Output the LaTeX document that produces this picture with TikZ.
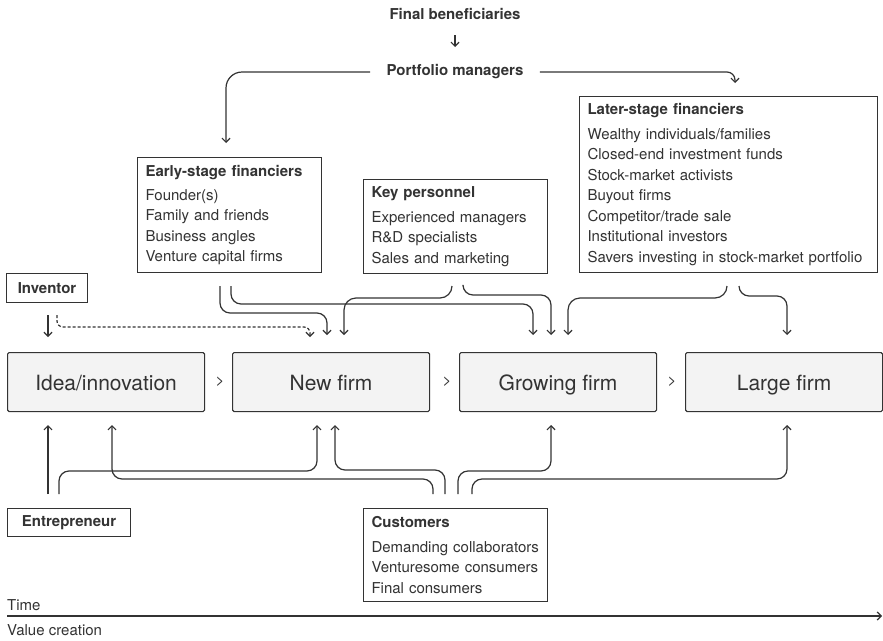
\documentclass[tikz,border=0pt]{standalone}
\usepackage{fontspec}
\setmainfont{TeX Gyre Heros}
\usetikzlibrary{arrows.meta}
\definecolor{ink}{HTML}{333333}
\definecolor{stagefill}{HTML}{F3F3F3}
\begin{document}
\begin{tikzpicture}[x=1pt,y=-1pt,
  font=\fontsize{15}{20.5}\selectfont, text=ink,
  conn/.style={draw=ink, line width=1.2pt, rounded corners=10pt, -{Straight Barb[length=4pt,width=8pt]}},
  infobox/.style={draw=ink, line width=1.1pt, anchor=north west, align=left, inner xsep=8pt, inner ysep=0pt},
  namebox/.style={draw=ink, line width=1.1pt, anchor=north west, inner sep=0pt, font=\fontsize{15}{18}\selectfont\bfseries},
  stagebox/.style={draw=ink, fill=stagefill, line width=1.1pt, rounded corners=1.5pt, anchor=north west, minimum width=197pt, minimum height=59pt, text height=19pt, text depth=3pt, font=\fontsize{21}{25}\selectfont},
  headtxt/.style={font=\fontsize{15}{18}\selectfont\bfseries},
  chev/.style={font=\fontsize{15}{18}\selectfont},
  plaintxt/.style={font=\fontsize{15}{18}\selectfont, anchor=west, inner sep=0pt}]
\fill[white] (0,0) rectangle (883,640);
\useasboundingbox (0,0) rectangle (883,640);

% headers
\node[headtxt] (fb) at (455,14) {Final beneficiaries};
\node[headtxt] (pm) at (455,72) {Portfolio managers};
\coordinate (fbA) at (455,35);
\coordinate (fbB) at (455,47);
\draw[conn] (fbA) -- (fbB);

% info boxes
\node[infobox, text width=168pt, minimum height=115pt] (early) at (137,157)
  {\textbf{Early-stage financiers}\\[3.5pt]Founder(s)\\Family and friends\\Business angles\\Venture capital firms};
\node[infobox, text width=168pt, minimum height=94pt] (key) at (363,179)
  {\textbf{Key personnel}\\[4pt]Experienced managers\\R\&D specialists\\Sales and marketing};
\node[infobox, text width=282pt, minimum height=176pt] (later) at (579,96)
  {\textbf{Later-stage financiers}\\[4pt]Wealthy individuals/families\\Closed-end investment funds\\Stock-market activists\\Buyout firms\\Competitor/trade sale\\Institutional investors\\Savers investing in stock-market portfolio};
\node[infobox, text width=168pt, minimum height=93pt] (cust) at (363,508)
  {\textbf{Customers}\\[4pt]Demanding collaborators\\Venturesome consumers\\Final consumers};
\node[namebox, minimum width=81pt, minimum height=29pt] (inv) at (6,273) {Inventor};
\node[namebox, minimum width=123pt, minimum height=28pt] (ent) at (7,508) {Entrepreneur};

% stage boxes
\node[stagebox] (idea) at (7,352) {Idea/innovation};
\node[stagebox] (new) at (232,352) {New firm};
\node[stagebox] (grow) at (459,352) {Growing firm};
\node[stagebox] (large) at (685,352) {Large firm};
\node[chev] (c1) at (220,382) {>};
\node[chev] (c2) at (447,382) {>};
\node[chev] (c3) at (672,382) {>};

% portfolio managers connectors
\coordinate (pl) at ([xshift=-13pt]pm.west);
\coordinate (pr) at ([xshift=13pt]pm.east);
\coordinate (ptl) at (226,143);
\coordinate (ptr) at (735,83);
\draw[conn, rounded corners=16pt] (pl) -| (ptl);
\draw[conn, rounded corners=8pt] (pr) -| (ptr);

% top connectors
\coordinate (s1) at (220,286); \coordinate (m1) at (327,313); \coordinate (t1) at (327,335);
\coordinate (s2) at (231,286); \coordinate (m2) at (533,304); \coordinate (t2) at (533,335);
\coordinate (s3) at (452,286); \coordinate (m3) at (344,298); \coordinate (t3) at (344,335);
\coordinate (s4) at (463,286); \coordinate (m4) at (551,295); \coordinate (t4) at (551,335);
\coordinate (s5) at (727,286); \coordinate (m5) at (568,298); \coordinate (t5) at (568,335);
\coordinate (s6) at (739,286); \coordinate (m6) at (787,296); \coordinate (t6) at (787,335);
\draw[conn] (s1) |- (m1) -- (t1);
\draw[conn] (s2) |- (m2) -- (t2);
\draw[conn, rounded corners=12pt] (s3) |- (m3) -- (t3);
\draw[conn] (s4) |- (m4) -- (t4);
\draw[conn, rounded corners=12pt] (s5) |- (m5) -- (t5);
\draw[conn] (s6) |- (m6) -- (t6);

% inventor connectors
\coordinate (i1) at (48,315); \coordinate (it1) at (48,337);
\coordinate (i2) at (57,315); \coordinate (im2) at (310,327); \coordinate (it2) at (310,337);
\draw[conn] (i1) -- (it1);
\draw[conn, dash pattern=on 3pt off 2pt, rounded corners=6pt] (i2) |- (im2) -- (it2);

% bottom connectors
\coordinate (b1) at (48,494); \coordinate (bt1) at (48,425);
\coordinate (b2) at (59,494); \coordinate (bm2) at (317,471); \coordinate (bt2) at (317,425);
\coordinate (b3) at (433,494); \coordinate (bm3) at (112,479); \coordinate (bt3) at (112,425);
\coordinate (b4) at (445,494); \coordinate (bm4) at (335,470); \coordinate (bt4) at (335,425);
\coordinate (b5) at (458,494); \coordinate (bm5) at (551,471); \coordinate (bt5) at (551,425);
\coordinate (b6) at (472,494); \coordinate (bm6) at (787,479); \coordinate (bt6) at (787,425);
\draw[conn] (b1) -- (bt1);
\draw[conn] (b2) |- (bm2) -- (bt2);
\draw[conn] (b3) |- (bm3) -- (bt3);
\draw[conn] (b4) |- (bm4) -- (bt4);
\draw[conn] (b5) |- (bm5) -- (bt5);
\draw[conn] (b6) |- (bm6) -- (bt6);

% time axis
\node[plaintxt] (time) at (7,605) {Time};
\node[plaintxt] (value) at (7,630) {Value creation};
\coordinate (ta) at (7,616);
\coordinate (tb) at (882,616);
\draw[conn] (ta) -- (tb);
\end{tikzpicture}
\end{document}
